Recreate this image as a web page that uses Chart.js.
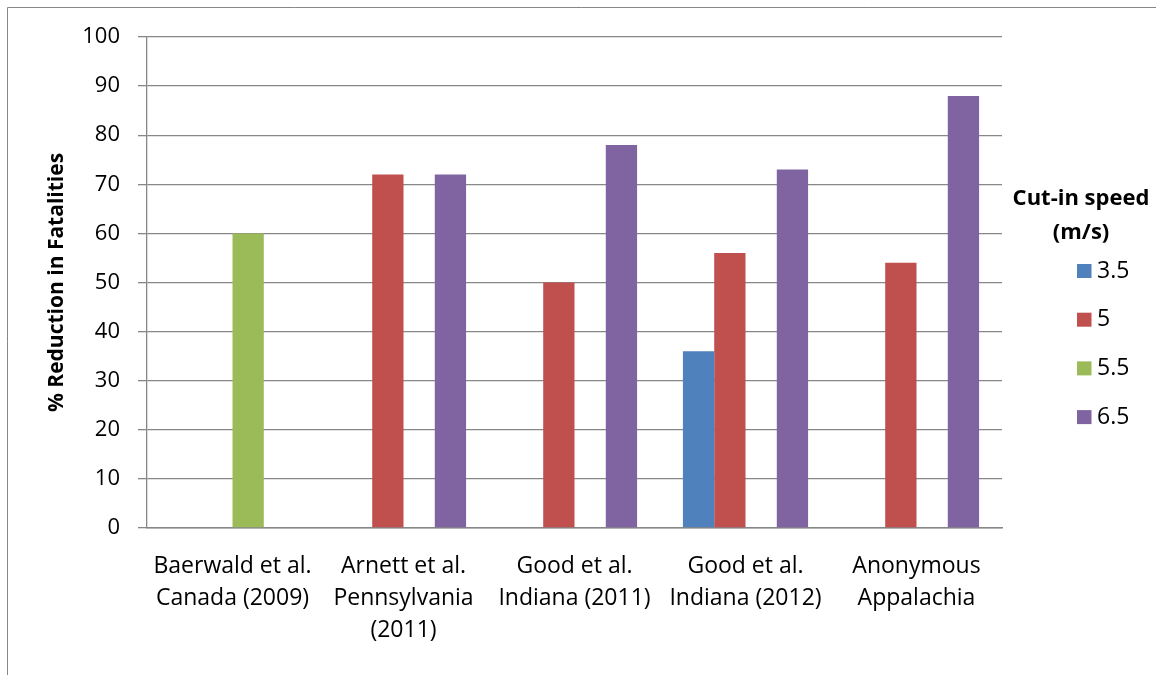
<!DOCTYPE html>
<html><head><meta charset="utf-8">
<script src="https://cdn.jsdelivr.net/npm/chart.js@4"></script>
<style>html,body{margin:0;padding:0;background:#fff;overflow:hidden}#wrap{width:1156px;height:675px;position:relative}</style>
</head><body><div id="wrap"><canvas id="c" width="1156" height="675" style="width:1156px;height:675px"></canvas></div>
<script>
const categories = [
  ["Baerwald et al.", "Canada (2009)"],
  ["Arnett et al.", "Pennsylvania", "(2011)"],
  ["Good et al.", "Indiana (2011)"],
  ["Good et al.", "Indiana (2012)"],
  ["Anonymous", "Appalachia"]
];
const seriesNames = ["3.5", "5", "5.5", "6.5"];
const values35 = [null, null, null, 36, null];
const values5  = [null, 72, 50, 56, 54];
const values55 = [60, null, null, null, null];
const values65 = [null, 72, 78, 73, 88];
const yTickValues = [0, 10, 20, 30, 40, 50, 60, 70, 80, 90, 100];
const legendTitle = ["Cut-in speed", "(m/s)"];
const yTitle = "% Reduction in Fatalities";
const colors = ["#4F81BD", "#C0504D", "#9BBB59", "#8064A2"];

const FONT = "'Open Sans', 'DejaVu Sans', sans-serif";
const GRID = "#878787";

const allValues = [values35, values5, values55, values65];
const datasets = seriesNames.map((n, i) => ({
  label: n,
  data: allValues[i],
  backgroundColor: colors[i],
  borderWidth: 0,
  categoryPercentage: 0.732,
  barPercentage: 1.0
}));

const framePlugin = {
  id: 'frame',
  beforeDraw(chart) {
    const ctx = chart.ctx;
    ctx.save();
    ctx.fillStyle = '#fff';
    ctx.fillRect(0, 0, chart.width, chart.height);
    ctx.strokeStyle = GRID;
    ctx.lineWidth = 1;
    ctx.beginPath();
    ctx.moveTo(7.5, chart.height);
    ctx.lineTo(7.5, 7.5);
    ctx.lineTo(chart.width, 7.5);
    ctx.stroke();
    ctx.restore();
  }
};

const legendPlugin = {
  id: 'customLegend',
  afterDraw(chart) {
    const ctx = chart.ctx;
    ctx.save();
    ctx.fillStyle = '#000';
    ctx.textBaseline = 'middle';
    ctx.textAlign = 'center';
    ctx.font = "bold 22px " + FONT;
    ctx.fillText(legendTitle[0], 1081, 199);
    ctx.fillText(legendTitle[1], 1081, 233);
    ctx.textAlign = 'left';
    ctx.font = "23px " + FONT;
    chart.data.datasets.forEach((ds, i) => {
      const cy = 271 + i * 48.7;
      ctx.fillStyle = ds.backgroundColor;
      ctx.fillRect(1077, cy - 7, 14.5, 14);
      ctx.fillStyle = '#000';
      ctx.fillText(ds.label, 1097, cy);
    });
    ctx.restore();
  }
};

new Chart(document.getElementById('c'), {
  type: 'bar',
  data: { labels: categories, datasets },
  options: {
    responsive: false,
    animation: false,
    devicePixelRatio: 1,
    layout: { padding: { left: 0, right: 154, top: 37, bottom: 0 } },
    plugins: { legend: { display: false }, tooltip: { enabled: false } },
    scales: {
      x: {
        grid: { display: false },
        border: { display: true, color: GRID, width: 1.5 },
        ticks: {
          color: '#000',
          font: { family: FONT, size: 23, lineHeight: 1.4 },
          maxRotation: 0, minRotation: 0, autoSkip: false,
          padding: 14
        },
        afterFit(s) { s.height = 147; }
      },
      y: {
        min: 0, max: 100,
        afterBuildTicks(s) { s.ticks = yTickValues.map(v => ({ value: v })); },
        grid: { color: GRID, lineWidth: 1.3, tickLength: 9, drawTicks: true },
        border: { display: true, color: GRID, width: 1.3 },
        ticks: {
          color: '#000',
          font: { family: FONT, size: 22 },
          padding: 18
        },
        title: {
          display: true,
          text: yTitle,
          color: '#000',
          font: { family: FONT, size: 21, weight: 'bold' },
          padding: { top: 44, bottom: 0 }
        },
        afterFit(s) { s.width = 147; }
      }
    }
  },
  plugins: [framePlugin, legendPlugin]
});
</script>
</body></html>
